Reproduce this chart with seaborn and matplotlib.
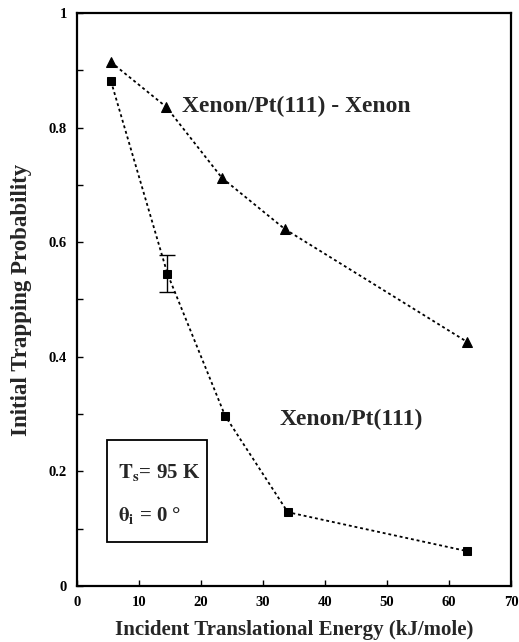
import matplotlib
matplotlib.use("Agg")
import matplotlib.pyplot as plt
from matplotlib.patches import Rectangle
import seaborn as sns
import pandas as pd

# Initial trapping probability vs incident translational energy
energy_xe_on_xe = [5.5, 14.4, 23.4, 33.5, 62.9]
trap_xe_on_xe = [0.914, 0.836, 0.712, 0.623, 0.426]

energy_xe_on_pt = [5.5, 14.6, 23.9, 34.0, 62.9]
trap_xe_on_pt = [0.881, 0.545, 0.297, 0.129, 0.061]

# single error bar shown on the Xe/Pt(111) series
err_energy = [14.6]
err_value = [0.545]
err_size = [0.032]

x_ticks = [0, 10, 20, 30, 40, 50, 60, 70]
y_ticks = [0, 0.1, 0.2, 0.3, 0.4, 0.5, 0.6, 0.7, 0.8, 0.9, 1.0]
y_tick_labels = ["0", "", "0.2", "", "0.4", "", "0.6", "", "0.8", "", "1"]

sns.set_theme(style="ticks")
plt.rcParams["font.family"] = ["Liberation Serif", "DejaVu Serif"]
plt.rcParams["mathtext.fontset"] = "stix"

df_a = pd.DataFrame({"energy": energy_xe_on_xe, "trap": trap_xe_on_xe})
df_b = pd.DataFrame({"energy": energy_xe_on_pt, "trap": trap_xe_on_pt})

fig = plt.figure(figsize=(5.19, 6.42), dpi=100)
ax = fig.add_axes([0.148, 0.087, 0.837, 0.893])

line_kw = dict(color="black", linewidth=1.3, linestyle=(0, (1.6, 1.6)))
sns.lineplot(data=df_a, x="energy", y="trap", ax=ax, marker="^", markersize=7,
             markeredgecolor="black", markerfacecolor="black", **line_kw)
sns.lineplot(data=df_b, x="energy", y="trap", ax=ax, marker="s", markersize=5.5,
             markeredgecolor="black", markerfacecolor="black", **line_kw)
ax.errorbar(err_energy, err_value, yerr=err_size, fmt="none", ecolor="black",
            elinewidth=1.0, capsize=6, capthick=1.0)

ax.set_xlim(0, 70)
ax.set_ylim(0, 1)
ax.set_xticks(x_ticks)
ax.set_xticklabels([str(t) for t in x_ticks])
ax.set_yticks(y_ticks)
ax.set_yticklabels(y_tick_labels)
ax.tick_params(direction="in", length=4, width=1.0, labelsize=10.5, pad=7,
               colors="black")
for lbl in ax.get_xticklabels() + ax.get_yticklabels():
    lbl.set_fontweight("bold")

for side in ["left", "right", "top", "bottom"]:
    ax.spines[side].set_visible(True)
    ax.spines[side].set_linewidth(1.6)
    ax.spines[side].set_color("black")

ax.set_xlabel("Incident Translational Energy (kJ/mole)", fontsize=15,
              fontweight="bold", labelpad=8)
ax.set_ylabel("Initial Trapping Probability", fontsize=16.5,
              fontweight="bold", labelpad=12)

ax.text(16.9, 0.836, "Xenon/Pt(111) - Xenon", fontsize=17, fontweight="bold",
        va="center", ha="left")
ax.text(32.6, 0.29, "Xenon/Pt(111)", fontsize=17, fontweight="bold",
        va="center", ha="left")

# condition box
ax.add_patch(Rectangle((4.8, 0.077), 16.2, 0.178, fill=False,
                       edgecolor="black", linewidth=1.3))
ax.text(6.6, 0.199, r"$\mathbf{T_s}$" + "= 95 K", fontsize=15, fontweight="bold",
        va="center", ha="left")
ax.text(6.6, 0.124, r"$\mathbf{\theta_i}$" + " = 0 °", fontsize=15,
        fontweight="bold", va="center", ha="left")

fig.savefig("out.png", dpi=100)
